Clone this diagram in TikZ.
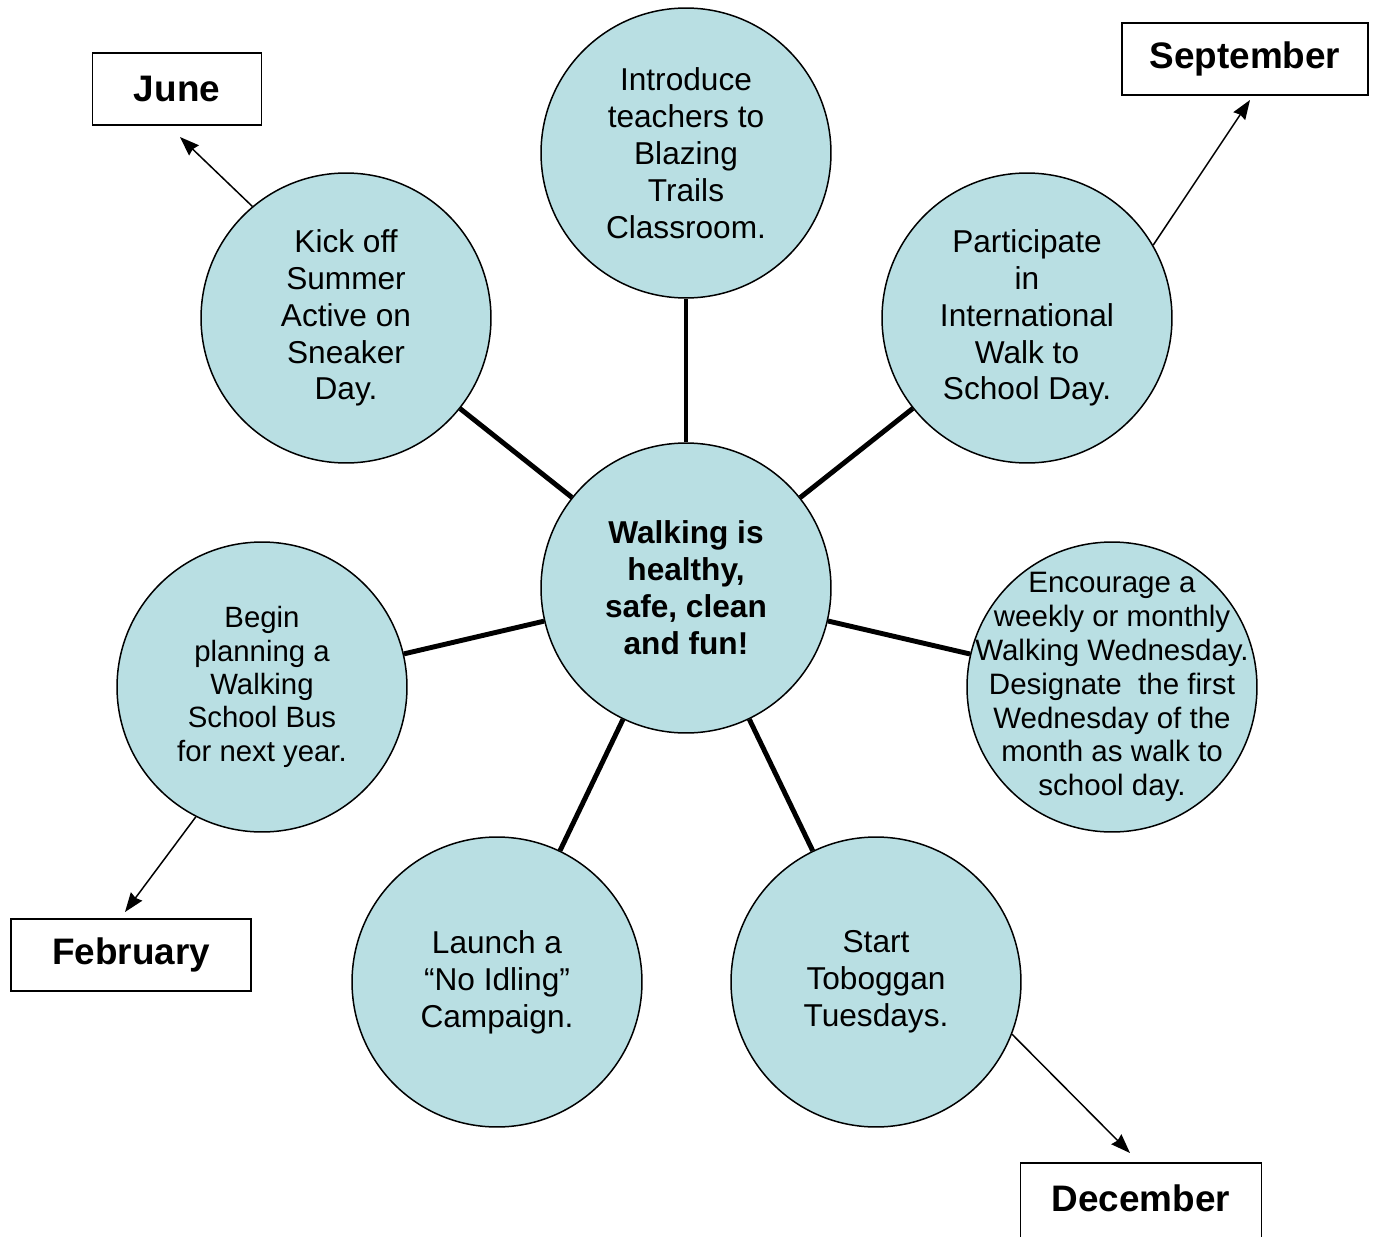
\documentclass[tikz,border=0pt]{standalone}
\usepackage{fontspec}
\setmainfont{Liberation Sans}
\usepackage{tikz}
\usetikzlibrary{arrows.meta}
\definecolor{paleteal}{RGB}{185,223,227}
\tikzstyle{tealcircle} = [circle, draw=black, line width=0.85pt, fill=paleteal, minimum size=5.8cm, inner sep=0pt, align=center, font=\fontsize{18}{21}\selectfont]
\tikzstyle{hubcircle} = [tealcircle, font=\fontsize{18}{21}\selectfont\bfseries]
\tikzstyle{monthbox} = [rectangle, draw=black, line width=0.85pt, minimum width=4.8cm, minimum height=1.44cm, inner sep=0pt, font=\fontsize{21}{25}\selectfont\bfseries]
\tikzstyle{spoke} = [line width=2.8pt]
\tikzstyle{arrow} = [line width=0.85pt,-{Stealth[length=11pt,width=8pt,inset=1pt]}]

\begin{document}
\begin{tikzpicture}[x=0.02cm, y=-0.02cm]
      \useasboundingbox (0,0) rectangle (1373,1237);
      % hub and activities
      \node (hub) [hubcircle] at (686,588) {Walking is\\healthy,\\safe, clean\\and fun!};
      \node (teachers) [tealcircle] at (686,153) {Introduce\\teachers to\\Blazing\\Trails\\Classroom.};
      \node (kickoff) [tealcircle] at (346,318) {Kick off\\Summer\\Active on\\Sneaker\\Day.};
      \node (iwalk) [tealcircle] at (1027,318) {Participate\\in\\International\\Walk to\\School Day.};
      \node (bus) [tealcircle, font=\fontsize{16.7}{19}\selectfont] at (262,687) {Begin\\planning a\\Walking\\School Bus\\for next year.};
      \node (wednesday) [tealcircle, inner sep=-1cm, font=\fontsize{16.8}{19.3}\selectfont] at (1112,687) {Encourage a\\weekly or monthly\\Walking Wednesday.\\Designate~ the first\\Wednesday of the\\month as walk to\\school day.};
      \node (idling) [tealcircle] at (497,982) {Launch a\\“No Idling”\\Campaign.};
      \node (toboggan) [tealcircle] at (876,982) {Start\\Toboggan\\Tuesdays.};
      % months
      \node (june) [monthbox, minimum width=3.38cm] at (177,89) {June};
      \node (september) [monthbox, minimum width=4.92cm] at (1245,59) {September};
      \node (february) [monthbox] at (131,955) {February};
      \node (december) [monthbox, anchor=north, minimum width=4.82cm, minimum height=1.7cm, text height=0.55cm, text depth=0.3cm] at (1141,1162) {December};
      \coordinate (junetip) at (180,137);
      \coordinate (septip) at (1250,100);
      \coordinate (febtip) at (125,912);
      \coordinate (dectip) at (1130,1153);
      % spokes
      \draw [spoke] (hub) -- (teachers);
      \draw [spoke] (hub) -- (kickoff);
      \draw [spoke] (hub) -- (iwalk);
      \draw [spoke] (hub) -- (bus);
      \draw [spoke] (hub) -- (wednesday);
      \draw [spoke] (hub) -- (idling);
      \draw [spoke] (hub) -- (toboggan);
      % arrows to months
      \draw [arrow] (kickoff.130.9) -- (junetip);
      \draw [arrow] (iwalk.30.7) -- (septip);
      \draw [arrow] (bus.-117.1) -- (febtip);
      \draw [arrow] (toboggan.-21.3) -- (dectip);
\end{tikzpicture}
\end{document}
